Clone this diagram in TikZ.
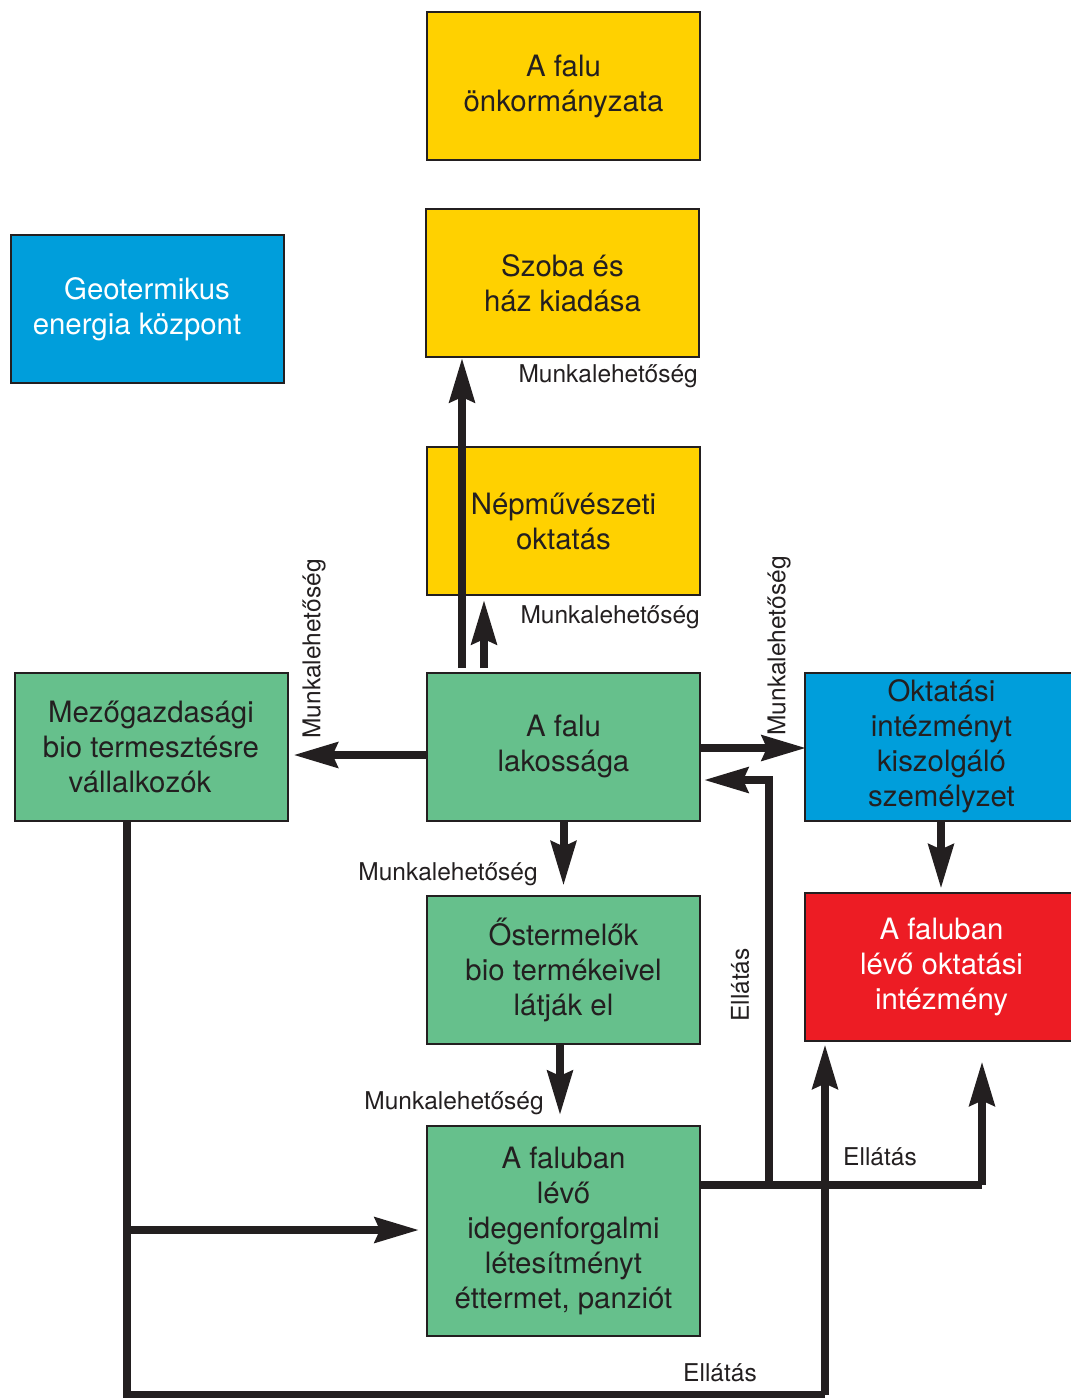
\documentclass[tikz,border=0pt]{standalone}
\usepackage{fontspec}
\setmainfont{TeX Gyre Heros}
\usetikzlibrary{arrows.meta,calc}
\definecolor{yel}{RGB}{255,209,0}
\definecolor{blu}{RGB}{0,158,219}
\definecolor{grn}{RGB}{102,192,140}
\definecolor{rd}{RGB}{237,28,36}
\definecolor{ink}{RGB}{35,31,32}
\tikzset{
  box/.style={draw=ink, line width=2pt, minimum width=273pt, minimum height=148pt, inner sep=0pt,
    align=center, text=ink, font=\fontsize{29.4}{35}\selectfont},
  lbl/.style={text=ink, inner sep=0pt, font=\fontsize{24.5}{28}\selectfont},
  arr/.style={draw=ink, line width=8pt, line join=miter,
    -{Stealth[length=44pt,width=25pt,inset=5pt]}},
  ln/.style={draw=ink, line width=8pt, line join=miter}
}
\begin{document}
\begin{tikzpicture}[x=1pt,y=-1pt]
\useasboundingbox (0,0) rectangle (1071,1398);
\clip (0,0) rectangle (1071,1398);
% boxes
\node[box, fill=yel] (onk) at (563.5,86) {A falu\\önkormányzata};
\node[box, fill=yel] (szo) at (562.5,283) {Szoba és\\ház kiadása};
\node[box, fill=blu, text=white] (geo) at (147,309) {Geotermikus\\energia központ\kern20pt};
\node[box, fill=yel] (nep) at (563.5,521) {Népművészeti\\oktatás};
\node[box, fill=grn] (mez) at (151,746.5) {Mezőgazdasági\\bio termesztésre\\vállalkozók\kern22pt};
\node[box, fill=grn] (lak) at (563.5,746.5) {A falu\\lakossága};
\node[box, fill=blu] (okt) at (941.5,746.5) {Oktatási\\intézményt\\kiszolgáló\\személyzet};
\node[box, fill=grn] (ost) at (563.5,969.5) {Őstermelők\\bio termékeivel\\látják el};
\node[box, fill=rd, text=white] (int) at (941.5,966.5) {A faluban\\lévő oktatási\\intézmény};
\node[box, fill=grn, minimum height=210pt] (ide) at (563.5,1231) {A faluban\\lévő\\idegenforgalmi\\létesítményt\\éttermet, panziót};
% helper coordinates
\coordinate (cA) at (769,1185);
\coordinate (cB) at (982,1185);
\coordinate (cC) at (127,1395);
\coordinate (cD) at (825,1395);
\coordinate (cE) at (127,1230);
\coordinate (cF) at (462,668);
\coordinate (cG) at (484,668);
% arrows
\draw[arr] (cF) -- (cF |- szo.south);
\draw[arr] (cG) -- ([yshift=-4pt]cG |- nep.south);
\draw[arr] ([yshift=-8.5pt]lak.west) -- ([xshift=5pt,yshift=-8.5pt]mez.east);
\draw[arr] ([yshift=-1.5pt]lak.east) -- ([xshift=2pt,yshift=-1.5pt]okt.west);
\draw[arr] (cA) |- ([xshift=3pt,yshift=-33.5pt]lak.east);
\draw[arr] (lak.south) -- ([yshift=9pt]ost.north);
\draw[arr] ([xshift=-3.5pt]ost.south) -- ([xshift=-3.5pt,yshift=10pt]ide.north);
\draw[arr] ([xshift=-0.5pt]okt.south) -- ([xshift=-0.5pt,yshift=3pt]int.north);
\draw[ln] (ide.east |- cA) -- (cB);
\draw[arr] (cB) -- ([yshift=-20pt]cB |- int.south);
\draw[ln] (mez.south -| cC) -- (cC) -- (cD);
\draw[arr] (cD) -- ([yshift=-3pt]cD |- int.south);
\draw[arr] (cE) -- ([xshift=-7pt]ide.west |- cE);
% labels
\node[lbl, anchor=east] (l1) at (698,376) {Munkalehetőség};
\node[lbl, anchor=east] (l2) at (700,617) {Munkalehetőség};
\node[lbl, rotate=90] (l3) at (314,649) {Munkalehetőség};
\node[lbl, rotate=90] (l4) at (779,646) {Munkalehetőség};
\node[lbl] (l5) at (448,874) {Munkalehetőség};
\node[lbl] (l6) at (454,1103) {Munkalehetőség};
\node[lbl, rotate=90] (l7) at (740,985) {Ellátás};
\node[lbl] (l8) at (880,1157) {Ellátás};
\node[lbl] (l9) at (720,1373) {Ellátás};
\end{tikzpicture}
\end{document}
